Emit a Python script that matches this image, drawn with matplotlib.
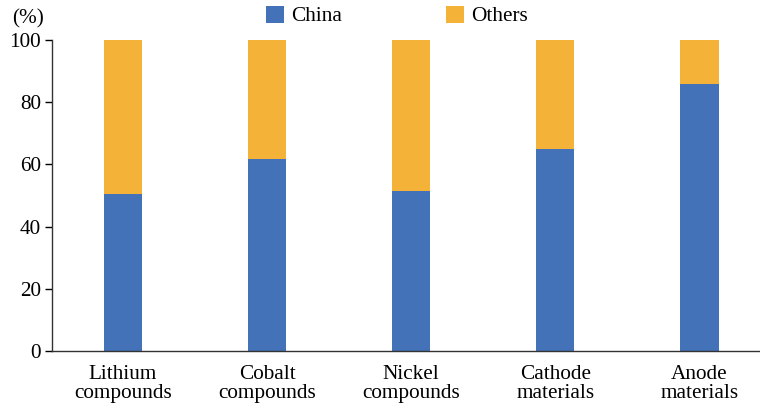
import matplotlib
matplotlib.use("Agg")
import matplotlib.pyplot as plt
import numpy as np
from matplotlib.patches import Patch

categories = ["Lithium\ncompounds", "Cobalt\ncompounds", "Nickel\ncompounds",
              "Cathode\nmaterials", "Anode\nmaterials"]
china = [50.5, 61.8, 51.5, 64.8, 86.0]
others = [100 - v for v in china]
yticks = [0, 20, 40, 60, 80, 100]

BLUE = "#4472B8"
ORANGE = "#F4B338"
FS = 15.3

plt.rcParams["font.family"] = ["Liberation Serif", "DejaVu Serif"]

fig = plt.figure(figsize=(7.6, 4.05), dpi=100)
ax = fig.add_axes([52 / 760, 54 / 405, 708 / 760, 311 / 405])

x = np.arange(len(categories))
w = 0.265
ax.bar(x, china, width=w, color=BLUE, edgecolor="none")
ax.bar(x, others, width=w, bottom=china, color=ORANGE, edgecolor="none")

ax.set_xlim(-0.493, 4.42)
ax.set_ylim(0, 100)
ax.set_yticks(yticks)
ax.set_xticks(x)
ax.set_xticklabels(categories, fontsize=FS, linespacing=0.98)
ax.tick_params(axis="x", length=0, pad=10)
ax.tick_params(axis="y", labelsize=FS, length=5, width=1, direction="out", pad=3)

for side in ("top", "right"):
    ax.spines[side].set_visible(False)
for side in ("left", "bottom"):
    ax.spines[side].set_color("#333333")
    ax.spines[side].set_linewidth(1.0)

fig.text(12 / 760, 1 - 19 / 405, "(%)", fontsize=FS, va="center", ha="left")

handles = [Patch(facecolor=BLUE, label="China"), Patch(facecolor=ORANGE, label="Others")]
fig.legend(handles=handles, loc="center", bbox_to_anchor=(397 / 760, 1 - 16 / 405),
           ncol=2, frameon=False, fontsize=FS, handlelength=0.85, handleheight=0.85,
           handletextpad=0.35, columnspacing=4.9)

fig.savefig("out.png", dpi=100)
